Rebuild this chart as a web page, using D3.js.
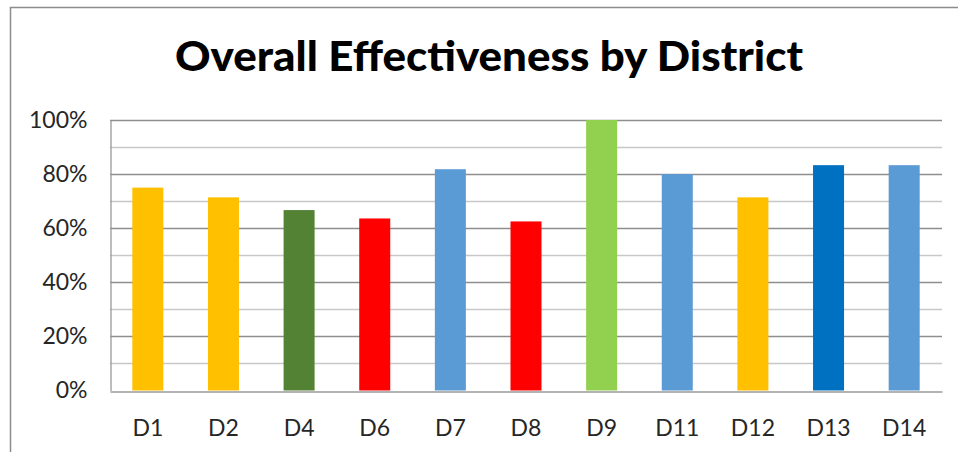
<!DOCTYPE html>
<html>
<head>
<meta charset="utf-8">
<script src="https://cdn.jsdelivr.net/npm/d3@7"></script>
<style>
  body { margin: 0; background: #fff; }
  svg { display: block; }
</style>
</head>
<body>
<script>
// data
const districts = ['D1', 'D2', 'D4', 'D6', 'D7', 'D8', 'D9', 'D11', 'D12', 'D13', 'D14'];
const effectiveness = [0.75, 0.714, 0.667, 0.636, 0.818, 0.625, 1.0, 0.80, 0.714, 0.833, 0.833];
const barColors = ['#FFC000', '#FFC000', '#548235', '#FF0000', '#5B9BD5', '#FF0000',
                   '#92D050', '#5B9BD5', '#FFC000', '#0070C0', '#5B9BD5'];
const yTicks = [0, 0.2, 0.4, 0.6, 0.8, 1.0];
const minorTicks = [0.1, 0.3, 0.5, 0.7, 0.9];

const W = 958, H = 452;
const plot = { left: 110, right: 942, top: 120, bottom: 390.5 };

let svg = d3.select('body')
            .append('svg')
            .attr('width', W)
            .attr('height', H);

// outer chart border (right/bottom run off the picture)
svg.append('rect')
    .attr('x', 10.5)
    .attr('y', 7.5)
    .attr('width', 980)
    .attr('height', 480)
    .attr('fill', '#fff')
    .attr('stroke', '#8c8c8c')
    .attr('stroke-width', 1.5);

// title
svg.append('text')
    .attr('x', 489)
    .attr('y', 71)
    .attr('text-anchor', 'middle')
    .attr('font-family', 'Lato, "Open Sans", sans-serif')
    .attr('font-weight', 900)
    .attr('font-size', 41)
    .attr('textLength', 628)
    .attr('lengthAdjust', 'spacingAndGlyphs')
    .attr('fill', '#000')
    .text('Overall Effectiveness by District');

let x = d3.scaleBand()
          .domain(districts)
          .range([plot.left, plot.right])
          .paddingInner(0.59)
          .paddingOuter(0.295);

let y = d3.scaleLinear()
          .domain([0, 1])
          .range([plot.bottom, plot.top]);

// minor gridlines
svg.append('g')
    .selectAll('line')
    .data(minorTicks)
    .join('line')
    .attr('x1', plot.left)
    .attr('x2', plot.right)
    .attr('y1', d => Math.round(y(d)) + 0.5)
    .attr('y2', d => Math.round(y(d)) + 0.5)
    .attr('stroke', '#c8c8c8')
    .attr('stroke-width', 1.3);

// major gridlines
svg.append('g')
    .selectAll('line')
    .data(yTicks.filter(d => d > 0))
    .join('line')
    .attr('x1', plot.left)
    .attr('x2', plot.right)
    .attr('y1', d => Math.round(y(d)) + 0.5)
    .attr('y2', d => Math.round(y(d)) + 0.5)
    .attr('stroke', '#8e8e8e')
    .attr('stroke-width', 1.3);

// bars
svg.append('g')
    .selectAll('rect')
    .data(districts)
    .join('rect')
    .attr('x', d => x(d))
    .attr('y', (d, i) => y(effectiveness[i]))
    .attr('width', x.bandwidth())
    .attr('height', (d, i) => y(0) - y(effectiveness[i]))
    .attr('fill', (d, i) => barColors[i]);

// y axis
let yAxis = svg.append('g')
    .attr('transform', `translate(${plot.left + 0.5},0)`)
    .call(d3.axisLeft(y).tickValues(yTicks).tickFormat(d3.format('.0%')).tickSize(0).tickPadding(23));
yAxis.select('.domain').attr('stroke', '#9a9a9a').attr('stroke-width', 1.3);
yAxis.selectAll('text')
    .attr('font-family', 'Lato, "Open Sans", sans-serif')
    .attr('font-size', 23)
    .attr('fill', '#262626');

// x axis
let xAxis = svg.append('g')
    .attr('transform', `translate(0,${Math.round(plot.bottom) + 0.5})`)
    .call(d3.axisBottom(x).tickSize(0).tickPadding(28));
xAxis.select('.domain').attr('stroke', '#9a9a9a').attr('stroke-width', 1.3);
xAxis.selectAll('text')
    .attr('font-family', 'Lato, "Open Sans", sans-serif')
    .attr('font-size', 23)
    .attr('fill', '#262626');
</script>
</body>
</html>
